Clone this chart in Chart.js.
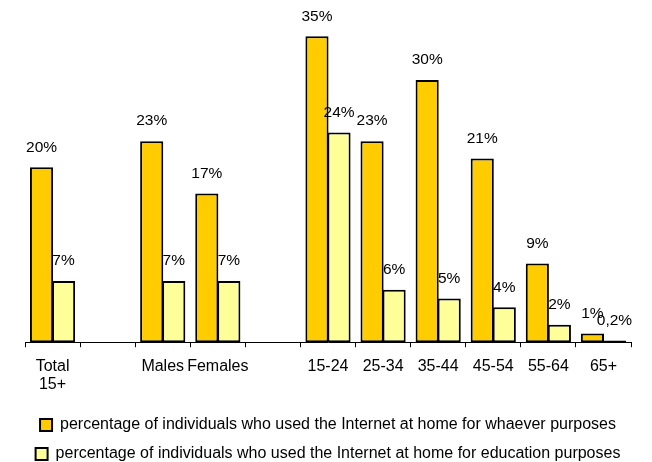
<!DOCTYPE html>
<html>
<head>
<meta charset="utf-8">
<script src="https://cdn.jsdelivr.net/npm/chart.js@4/dist/chart.umd.min.js"></script>
<style>
html,body{margin:0;padding:0;background:#fff;}
#wrap{width:652px;height:462px;}
</style>
</head>
<body>
<div id="wrap"><canvas id="c" width="652" height="462"></canvas></div>
<script>
const categories = [['Total','15+'], '', 'Males', 'Females', '', '15-24', '25-34', '35-44', '45-54', '55-64', '65+'];
const anyPurpose = [20, null, 23, 17, null, 35, 23, 30, 21, 9, 1];
const educationPurpose = [7, null, 7, 7, null, 24, 6, 5, 4, 2, 0.2];
const seriesNames = [
  'percentage of individuals who used the Internet at home for whaever purposes',
  'percentage of individuals who used the Internet at home for education purposes'
];

const FONT = 'Liberation Sans, Arial, sans-serif';

const valueLabels = {
  id: 'valueLabels',
  afterDatasetsDraw(chart) {
    const ctx = chart.ctx;
    ctx.save();
    ctx.font = '15.5px ' + FONT;
    ctx.fillStyle = '#000';
    ctx.textAlign = 'center';
    ctx.textBaseline = 'middle';
    chart.data.datasets.forEach((ds, di) => {
      const meta = chart.getDatasetMeta(di);
      meta.data.forEach((el, i) => {
        const v = ds.data[i];
        if (v === null || v === undefined) return;
        const txt = String(v).replace('.', ',') + '%';
        ctx.fillText(txt, el.x, el.y - 20);
      });
    });
    ctx.restore();
  }
};

new Chart(document.getElementById('c'), {
  type: 'bar',
  data: {
    labels: categories,
    datasets: [
      { label: seriesNames[0], data: anyPurpose, backgroundColor: '#FFCC00', borderColor: '#000', borderWidth: 2, borderSkipped: false },
      { label: seriesNames[1], data: educationPurpose, backgroundColor: '#FFFF99', borderColor: '#000', borderWidth: 2, borderSkipped: false }
    ]
  },
  options: {
    responsive: false,
    animation: false,
    devicePixelRatio: 1,
    layout: { padding: { left: 25, right: 21, top: 10, bottom: -10 } },
    datasets: { bar: { categoryPercentage: 0.8, barPercentage: 1.05 } },
    scales: {
      x: {
        offset: true,
        grid: { display: true, drawOnChartArea: false, drawTicks: true, tickLength: 5, color: '#000', offset: true },
        border: { display: true, color: '#000', width: 1 },
        ticks: { color: '#000', font: { size: 16, family: FONT, lineHeight: 1.15 }, padding: 10, maxRotation: 0, autoSkip: false }
      },
      y: {
        display: false,
        min: 0,
        max: 38
      }
    },
    plugins: {
      legend: {
        position: 'bottom',
        align: 'center',
        labels: {
          color: '#000',
          font: { size: 16, family: FONT },
          boxWidth: 12,
          boxHeight: 12,
          padding: 13
        }
      },
      tooltip: { enabled: false }
    }
  },
  plugins: [valueLabels]
});
</script>
</body>
</html>
